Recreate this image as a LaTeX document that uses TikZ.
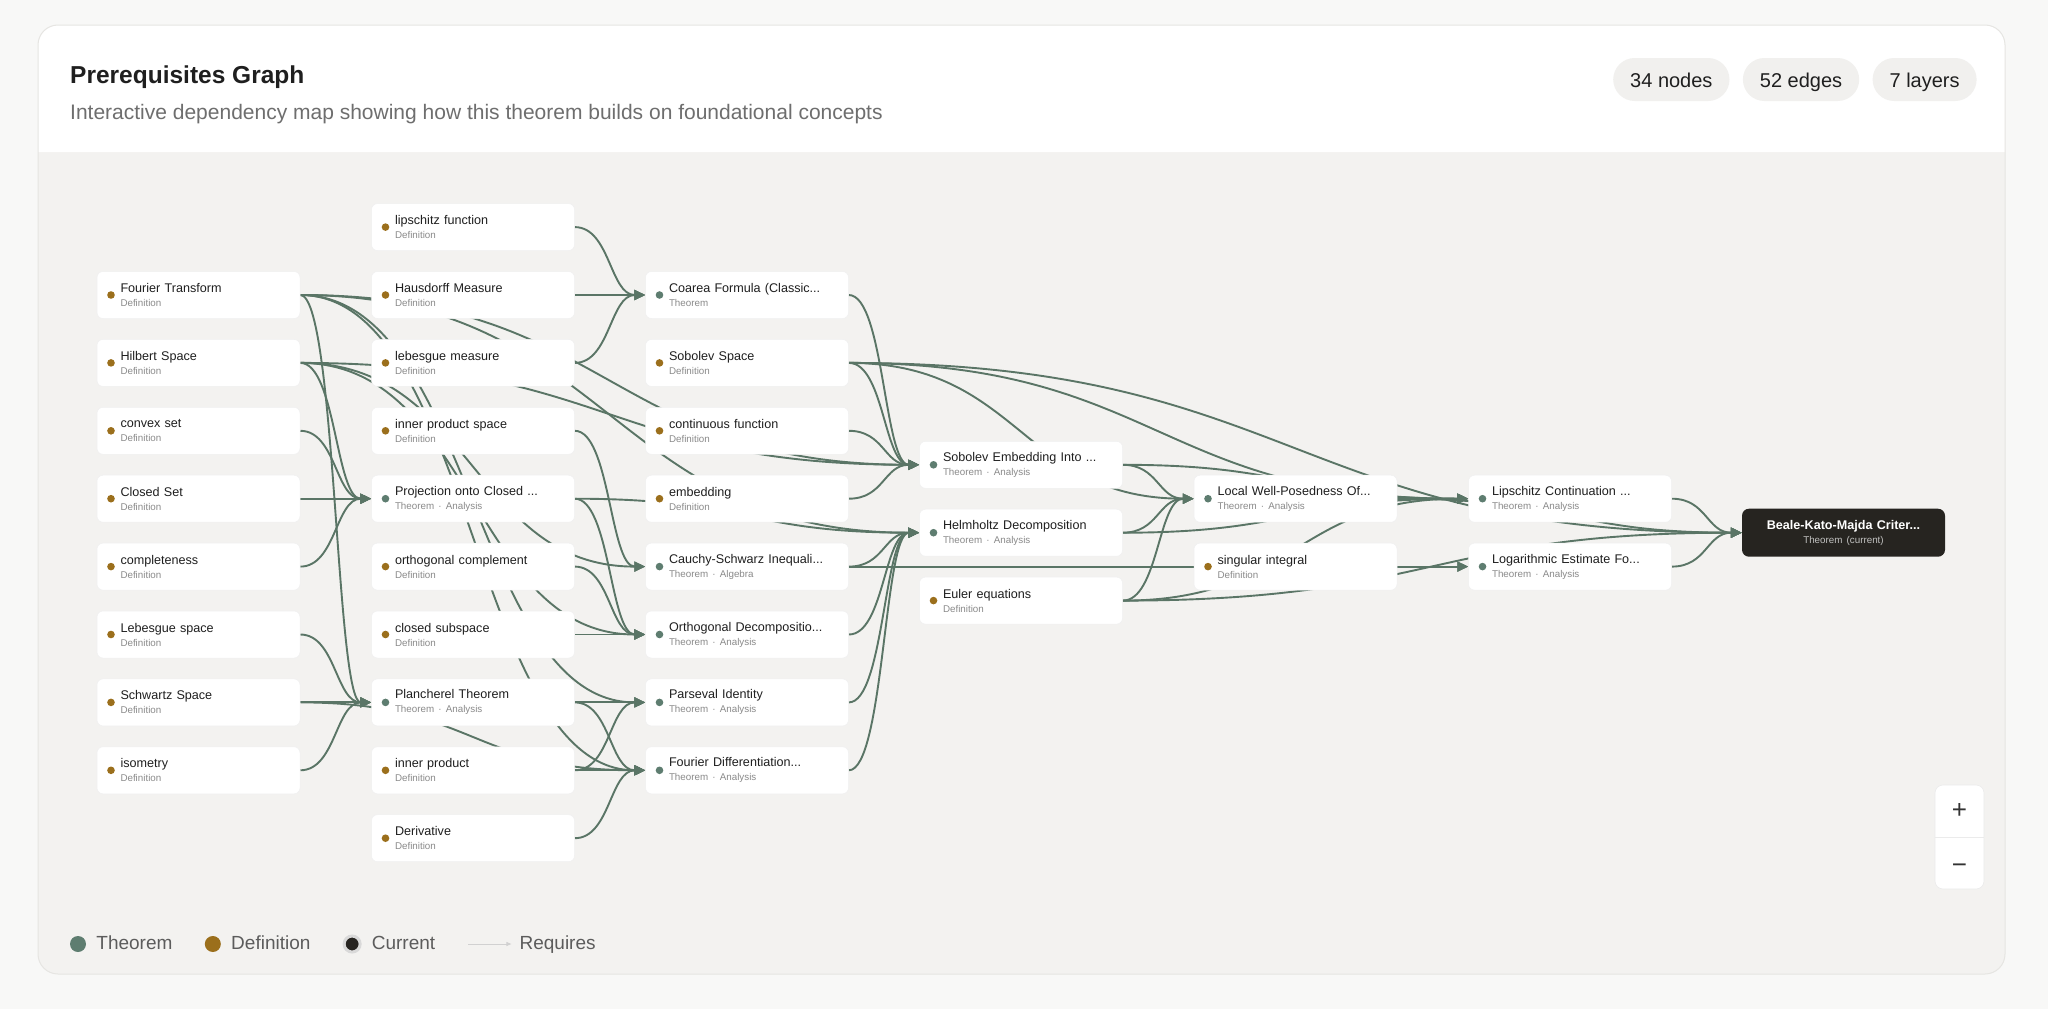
\documentclass[tikz,border=0pt]{standalone}
\usepackage{fontspec}
\setmainfont{Liberation Sans}
\usepackage{xcolor}
\definecolor{pagebg}{HTML}{F8F8F7}
\definecolor{canvasgray}{HTML}{F3F2F0}
\definecolor{cardline}{HTML}{E6E5E2}
\definecolor{edgeink}{HTML}{5A7566}
\definecolor{thmdot}{HTML}{5E7D70}
\definecolor{defdot}{HTML}{9B6F1C}
\definecolor{curfill}{HTML}{262420}
\definecolor{titleink}{HTML}{1F1F1F}
\definecolor{subink}{HTML}{8A8A8A}
\definecolor{leadink}{HTML}{6E6E6E}
\definecolor{legendink}{HTML}{5C5C5C}
\definecolor{pillfill}{HTML}{F1F0EE}
\usepackage{tikz}
\usetikzlibrary{arrows.meta,positioning,calc,backgrounds}
\newcommand{\nodekind}[1]{{\fontsize{9.8}{14}\selectfont\color{subink}#1}}
\tikzset{
  graph link/.style={to path={let \p1=(\tikztostart), \p2=(\tikztotarget) in .. controls ({0.5*\x1+0.5*\x2},\y1) and ({0.5*\x1+0.5*\x2},\y2) .. (\tikztotarget)}},
  graph card/.style={rectangle, rounded corners=6pt, fill=white, draw=black!6, line width=0.5pt, minimum width=203pt, minimum height=47pt, text width=156pt, inner xsep=23.5pt, inner ysep=0pt, align=left, font=\fontsize{12.6}{14}\selectfont, text=titleink},
  graph def/.style={graph card, path picture={\fill[defdot] ([xshift=14pt]path picture bounding box.west) circle (3.8pt);}},
  graph thm/.style={graph card, path picture={\fill[thmdot] ([xshift=14pt]path picture bounding box.west) circle (3.8pt);}},
  graph current/.style={rectangle, rounded corners=7pt, fill=curfill, minimum width=203pt, minimum height=48pt, text width=190pt, inner xsep=6.5pt, inner ysep=0pt, align=center, font=\bfseries\fontsize{12.6}{14}\selectfont, text=white},
  graph edge/.style={draw=edgeink, line width=1.9pt, -{Triangle[length=11pt,width=10pt]}, graph link},
  graph badge/.style={rectangle, rounded corners=21.5pt, fill=pillfill, minimum height=43pt, inner xsep=17pt, inner ysep=0pt, text height=19pt, text depth=4pt, font=\fontsize{20}{24}\selectfont, text=titleink},
  graph legend/.style={inner sep=0pt, text height=14pt, text depth=4pt, font=\fontsize{19}{22}\selectfont, text=legendink},
  legend dot/.style={circle, inner sep=0pt, minimum size=16pt},
  zoom btn/.style={inner sep=0pt, font=\fontsize{26}{28}\selectfont, text=black!80},
}
\begin{document}
\begin{tikzpicture}[x=1pt, y=-1pt]
  \useasboundingbox (0,0) rectangle (2048,1009);
  \begin{scope}[on background layer]
    \fill[pagebg] (0,0) rectangle (2048,1009);
    \fill[canvasgray, rounded corners=20pt] (38,25) rectangle (2005,974);
    \fill[white, rounded corners=20pt] (38,152) -- (38,25) -- (2005,25) -- (2005,152);
    \draw[cardline, line width=1pt, rounded corners=20pt] (38,25) rectangle (2005,974);
  \end{scope}

  % header
  \node[anchor=base west, inner sep=0pt, font=\bfseries\fontsize{24.5}{28}\selectfont, text=titleink] (title) at (70,83) {Prerequisites Graph};
  \node[anchor=base west, inner sep=0pt, font=\fontsize{21}{24}\selectfont, text=leadink] (lead) at (70,119) {Interactive dependency map showing how this theorem builds on foundational concepts};
  \node[graph badge, anchor=west] (nodesbadge) at (1613,79.5) {34 nodes};
  \node[graph badge, right=13pt of nodesbadge] (edgesbadge) {52 edges};
  \node[graph badge, right=13pt of edgesbadge] (layersbadge) {7 layers};

  % layer 0
  \node[graph def] (ft) at (198.5,295) {Fourier Transform\\\nodekind{Definition}};
  \node[graph def] (hil) at (198.5,362.9) {Hilbert Space\\\nodekind{Definition}};
  \node[graph def] (convex) at (198.5,430.8) {convex set\\\nodekind{Definition}};
  \node[graph def] (closedset) at (198.5,498.7) {Closed Set\\\nodekind{Definition}};
  \node[graph def] (complete) at (198.5,566.6) {completeness\\\nodekind{Definition}};
  \node[graph def] (lebsp) at (198.5,634.5) {Lebesgue space\\\nodekind{Definition}};
  \node[graph def] (schwartz) at (198.5,702.4) {Schwartz Space\\\nodekind{Definition}};
  \node[graph def] (isom) at (198.5,770.3) {isometry\\\nodekind{Definition}};
  % layer 1
  \node[graph def] (lipf) at (473,227.1) {lipschitz function\\\nodekind{Definition}};
  \node[graph def] (haus) at (473,295) {Hausdorff Measure\\\nodekind{Definition}};
  \node[graph def] (lebm) at (473,362.9) {lebesgue measure\\\nodekind{Definition}};
  \node[graph def] (ips) at (473,430.8) {inner product space\\\nodekind{Definition}};
  \node[graph thm] (proj) at (473,498.7) {Projection onto Closed ...\\\nodekind{Theorem · Analysis}};
  \node[graph def] (ocomp) at (473,566.6) {orthogonal complement\\\nodekind{Definition}};
  \node[graph def] (csub) at (473,634.5) {closed subspace\\\nodekind{Definition}};
  \node[graph thm] (planch) at (473,702.4) {Plancherel Theorem\\\nodekind{Theorem · Analysis}};
  \node[graph def] (inprod) at (473,770.3) {inner product\\\nodekind{Definition}};
  \node[graph def] (deriv) at (473,838.2) {Derivative\\\nodekind{Definition}};
  % layer 2
  \node[graph thm] (coarea) at (747,295) {Coarea Formula (Classic...\\\nodekind{Theorem}};
  \node[graph def] (sobsp) at (747,362.9) {Sobolev Space\\\nodekind{Definition}};
  \node[graph def] (contf) at (747,430.8) {continuous function\\\nodekind{Definition}};
  \node[graph def] (embed) at (747,498.7) {embedding\\\nodekind{Definition}};
  \node[graph thm] (cauchy) at (747,566.6) {Cauchy-Schwarz Inequali...\\\nodekind{Theorem · Algebra}};
  \node[graph thm] (orthdec) at (747,634.5) {Orthogonal Decompositio...\\\nodekind{Theorem · Analysis}};
  \node[graph thm] (parsev) at (747,702.4) {Parseval Identity\\\nodekind{Theorem · Analysis}};
  \node[graph thm] (fdiff) at (747,770.3) {Fourier Differentiation...\\\nodekind{Theorem · Analysis}};
  % layers 3 to 6
  \node[graph thm] (sobemb) at (1021,464.8) {Sobolev Embedding Into ...\\\nodekind{Theorem · Analysis}};
  \node[graph thm] (helm) at (1021,532.7) {Helmholtz Decomposition\\\nodekind{Theorem · Analysis}};
  \node[graph def] (euler) at (1021,600.6) {Euler equations\\\nodekind{Definition}};
  \node[graph thm] (lwp) at (1295.5,498.7) {Local Well-Posedness Of...\\\nodekind{Theorem · Analysis}};
  \node[graph def] (sing) at (1295.5,566.6) {singular integral\\\nodekind{Definition}};
  \node[graph thm] (lipcont) at (1570,498.7) {Lipschitz Continuation ...\\\nodekind{Theorem · Analysis}};
  \node[graph thm] (logest) at (1570,566.6) {Logarithmic Estimate Fo...\\\nodekind{Theorem · Analysis}};
  \node[graph current] (bkm) at (1843.5,532.7) {Beale-Kato-Majda Criter...\\{\fontsize{9.8}{14}\selectfont\mdseries\color{white!72!curfill}Theorem (current)}};

  % requires edges, behind the cards
  \begin{scope}[on background layer]
    \draw[graph edge] (ft.east) to (planch.west); \draw[graph edge] (hil.east) to (proj.west); \draw[graph edge] (convex.east) to (proj.west);
    \draw[graph edge] (closedset.east) to (proj.west); \draw[graph edge] (complete.east) to (proj.west); \draw[graph edge] (lebsp.east) to (planch.west);
    \draw[graph edge] (schwartz.east) to (planch.west); \draw[graph edge] (isom.east) to (planch.west);
    \draw[graph edge] (ft.east) to (parsev.west); \draw[graph edge] (ft.east) to (fdiff.west); \draw[graph edge] (ft.east) to (sobemb.west); \draw[graph edge] (ft.east) to (helm.west);
    \draw[graph edge] (hil.east) to (cauchy.west); \draw[graph edge] (hil.east) to (orthdec.west); \draw[graph edge] (hil.east) to (sobemb.west); \draw[graph edge] (schwartz.east) to (fdiff.west);
    \draw[graph edge] (lipf.east) to (coarea.west); \draw[graph edge] (haus.east) to (coarea.west); \draw[graph edge] (lebm.east) to (coarea.west);
    \draw[graph edge] (ips.east) to (cauchy.west); \draw[graph edge] (proj.east) to (orthdec.west); \draw[graph edge] (ocomp.east) to (orthdec.west); \draw[graph edge] (csub.east) to (orthdec.west);
    \draw[graph edge] (planch.east) to (parsev.west); \draw[graph edge] (planch.east) to (fdiff.west); \draw[graph edge] (inprod.east) to (parsev.west); \draw[graph edge] (inprod.east) to (fdiff.west);
    \draw[graph edge] (deriv.east) to (fdiff.west); \draw[graph edge] (proj.east) to (helm.west);
    \draw[graph edge] (coarea.east) to (sobemb.west); \draw[graph edge] (sobsp.east) to (sobemb.west); \draw[graph edge] (contf.east) to (sobemb.west); \draw[graph edge] (embed.east) to (sobemb.west);
    \draw[graph edge] (cauchy.east) to (helm.west); \draw[graph edge] (orthdec.east) to (helm.west); \draw[graph edge] (parsev.east) to (helm.west); \draw[graph edge] (fdiff.east) to (helm.west);
    \draw[graph edge] (cauchy.east) to (logest.west); \draw[graph edge] (sobsp.east) to (lwp.west); \draw[graph edge] (sobsp.east) to (lipcont.west); \draw[graph edge] (sobsp.east) to (bkm.west);
    \draw[graph edge] (sobemb.east) to (lwp.west); \draw[graph edge] (sobemb.east) to (lipcont.west); \draw[graph edge] (helm.east) to (lwp.west); \draw[graph edge] (helm.east) to (lipcont.west);
    \draw[graph edge] (euler.east) to (lwp.west); \draw[graph edge] (euler.east) to (lipcont.west); \draw[graph edge] (euler.east) to (bkm.west);
    \draw[graph edge] (lwp.east) to (lipcont.west); \draw[graph edge] (lwp.east) to (bkm.west); \draw[graph edge] (sing.east) to (logest.west);
    \draw[graph edge] (lipcont.east) to (bkm.west); \draw[graph edge] (logest.east) to (bkm.west);
  \end{scope}

  % legend
  \node[legend dot, fill=thmdot] (lgthm) at (78,944) {};
  \node[graph legend, right=10pt of lgthm] (lgthmtxt) {Theorem};
  \node[legend dot, fill=defdot, right=32pt of lgthmtxt] (lgdef) {};
  \node[graph legend, right=10pt of lgdef] (lgdeftxt) {Definition};
  \node[legend dot, fill=curfill, draw=black!15, line width=3pt, right=32pt of lgdeftxt] (lgcur) {};
  \node[graph legend, right=10pt of lgcur] (lgcurtxt) {Current};
  \coordinate[right=33pt of lgcurtxt] (reqa);
  \coordinate[right=43pt of reqa] (reqb);
  \draw[black!18, line width=1pt, -{Triangle[length=5pt,width=4pt]}] (reqa) -- (reqb);
  \node[graph legend, right=8pt of reqb] (lgreqtxt) {Requires};

  % zoom controls
  \node[rectangle, rounded corners=8pt, fill=white, draw=black!8, line width=0.6pt, minimum width=49pt, minimum height=104pt] (zoombox) at (1959.5,837) {};
  \draw[black!8, line width=0.6pt] (zoombox.west) -- (zoombox.east);
  \node[zoom btn] (zoomin) at (1959.5,811) {+};
  \node[zoom btn] (zoomout) at (1959.5,869) {−};
\end{tikzpicture}
\end{document}
